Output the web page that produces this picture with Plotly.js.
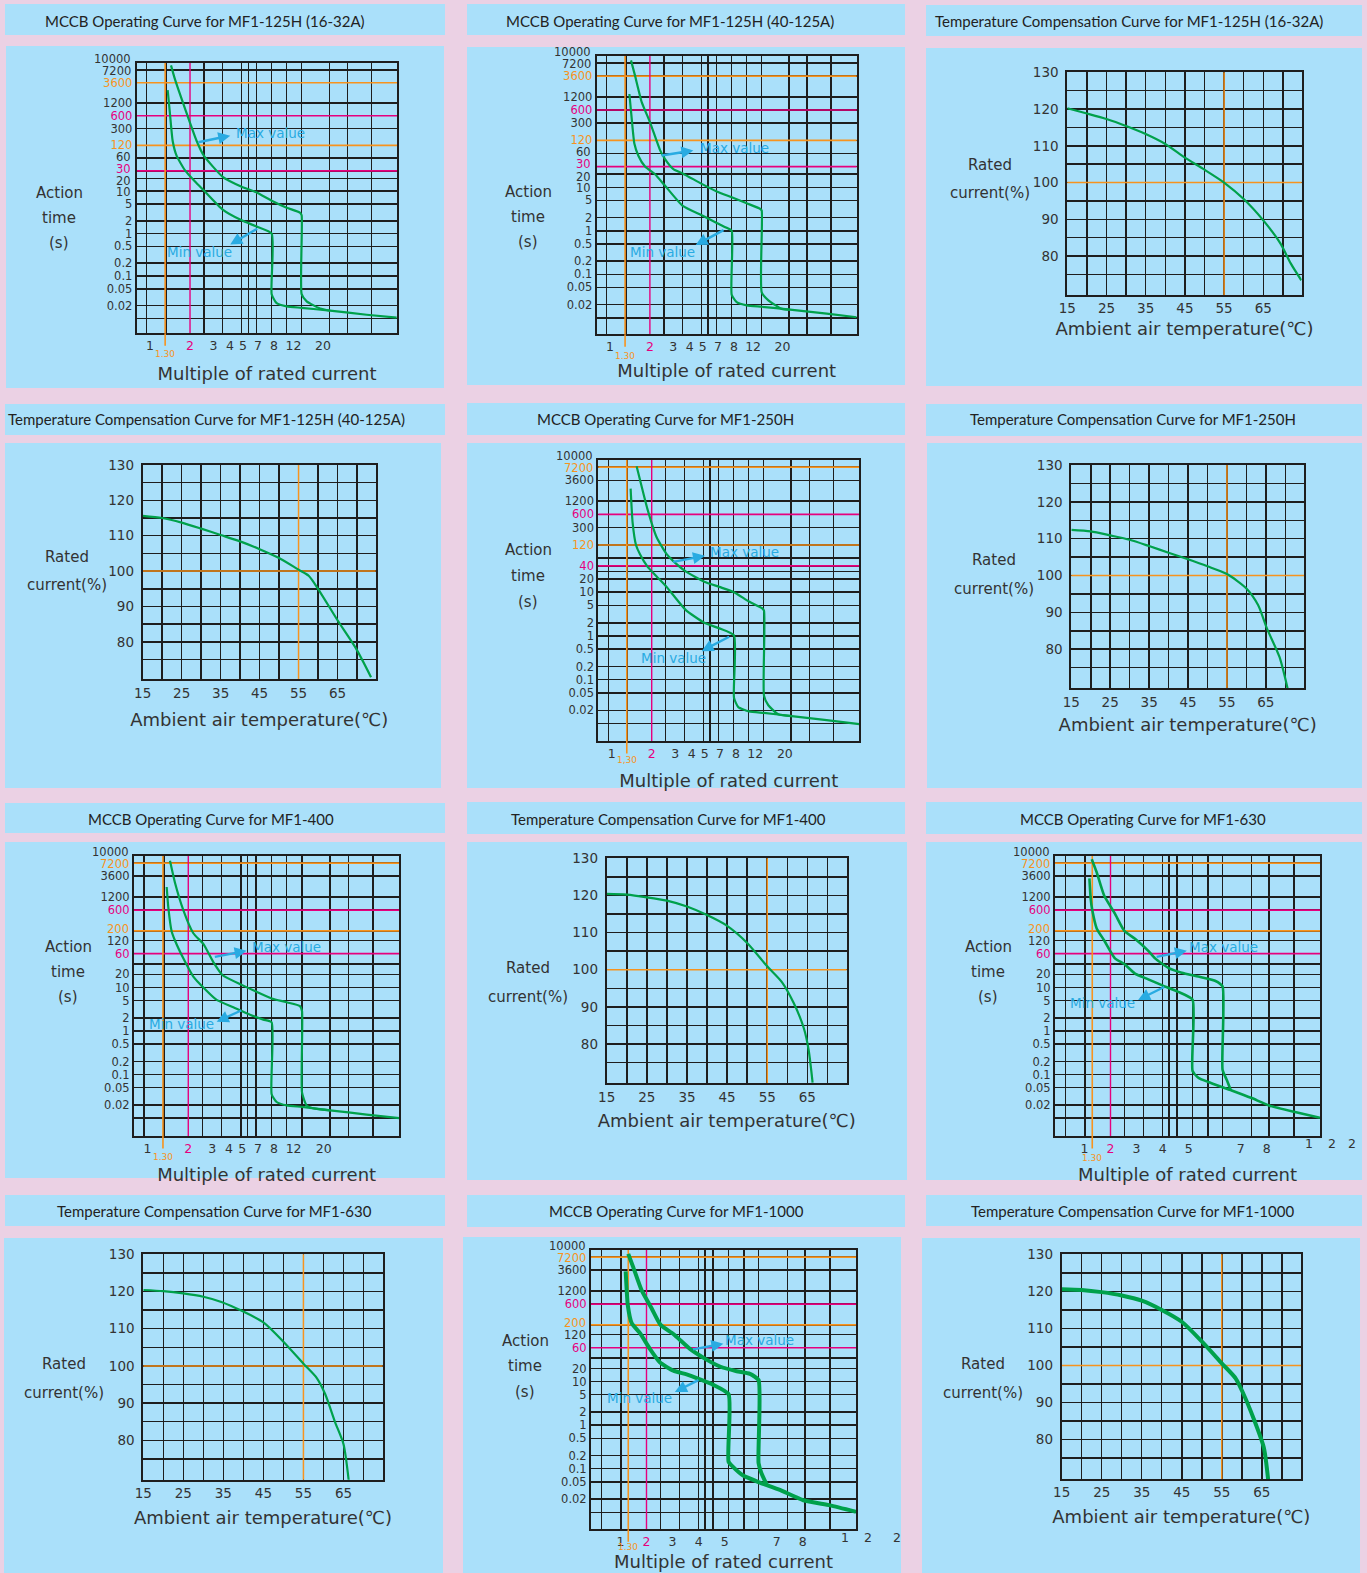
<!DOCTYPE html>
<html><head><meta charset="utf-8">
<script src="https://cdn.plot.ly/plotly-3.0.1.min.js"></script>
<style>html,body{margin:0;padding:0;background:#EBD1E4;}#chart{width:1367px;height:1573px;}</style>
</head><body><div id="chart"></div>
<script>
// ================= DATA =================
const panelTitles = [
  "MCCB Operating Curve for MF1-125H (16-32A)",
  "MCCB Operating Curve for MF1-125H (40-125A)",
  "Temperature Compensation Curve for MF1-125H (16-32A)",
  "Temperature Compensation Curve for MF1-125H (40-125A)",
  "MCCB Operating Curve for MF1-250H",
  "Temperature Compensation Curve for MF1-250H",
  "MCCB Operating Curve for MF1-400",
  "Temperature Compensation Curve for MF1-400",
  "MCCB Operating Curve for MF1-630",
  "Temperature Compensation Curve for MF1-630",
  "MCCB Operating Curve for MF1-1000",
  "Temperature Compensation Curve for MF1-1000"
];

// Operating curves: x = multiple of rated current, y = action time (s)
const op125aMinX = [1.358,1.414,1.481,1.587,1.834,2.18,2.548,3.521,4.892,6.343,8.226,8.226,8.967,10.66,13.82,22.59,42.62,71.65];
const op125aMinY = [2400,650,152,67.6,31,16.9,10.3,3.68,2.05,1.46,1.0,0.0373,0.0229,0.0193,0.0178,0.0153,0.0122,0.0105];
const op125aMaxX = [1.439,1.542,1.834,2.244,2.548,3.521,4.892,6.343,8.226,10.66,13.43,13.82,13.82,15.08,19.0,22.59];
const op125aMaxY = [9200,4290,881,152,67.6,21.8,12.7,9.3,5.95,4.08,3.13,2.71,0.0373,0.0253,0.0172,0.0153];

const op125bMinX = [1.401,1.458,1.527,1.637,1.838,2.186,2.556,3.535,4.915,6.377,7.586,8.276,8.276,9.024,10.74,13.93,22.78,43.03,72.44];
const op125bMinY = [1400,384,102,53.4,30,20,11.6,3.75,2.28,1.52,1.17,1.0,0.0335,0.0229,0.0193,0.0179,0.0154,0.0124,0.0103];
const op125bMaxX = [1.441,1.545,1.735,2.005,2.385,2.601,3.005,3.535,4.915,6.377,8.276,10.74,13.53,13.93,13.93,15.64,19.71,22.78];
const op125bMaxY = [8300,3700,913,312,71.8,44.5,26.2,20.9,12.0,8.06,5.9,4.29,3.22,2.93,0.0383,0.0252,0.016,0.0154];

const op250MinX = [1.389,1.438,1.524,1.633,1.854,2.178,2.590,3.596,4.966,6.437,8.297,8.297,8.939,10.75,13.94,22.48,41.18,72.44];
const op250MinY = [2320,387,120,73.9,39,22.9,13.2,3.95,2.0,1.49,1.03,0.039,0.0236,0.0189,0.0174,0.0148,0.0119,0.0097];
const op250MaxX = [1.541,1.633,1.854,2.178,2.590,2.905,3.596,4.966,6.437,8.297,10.75,13.38,13.94,13.94,15.02,17.85,22.48];
const op250MaxY = [7560,3690,812,180,73.9,51.4,30,17.4,13.2,10,6.1,4.36,3.81,0.0433,0.0261,0.0162,0.0148];

const op400MinX = [1.385,1.424,1.508,1.595,1.838,2.179,2.584,3.240,4.302,5.711,7.170,8.260,8.260,8.992,10.66,13.84,22.27,41.56,72.44];
const op400MinY = [2030,695,194,120,46.7,17.8,10,5.2,3.52,2.38,1.83,1.59,0.0354,0.0235,0.0196,0.0181,0.0151,0.0121,0.0100];
const op400MaxX = [1.465,1.595,1.838,2.179,2.584,3.062,3.589,4.958,6.399,8.260,10.78,13.37,13.84,13.84,14.98,17.26,22.27];
const op400MaxY = [8130,2550,600,176,100,38.4,19.1,11.5,7.94,5.61,4.54,3.73,2.89,0.039,0.0196,0.0165,0.0151];

const op630MinX = [1.19,1.24,1.30,1.47,1.76,2.17,2.53,2.94,3.45,3.99,4.60,5.15,5.15,5.37,5.75,6.65,7.42,8.08,9.04,10.04];
const op630MinY = [3200,1084,600,228,120,46.7,34.6,20.8,15.4,11.2,7.94,5.23,0.121,0.085,0.0675,0.0433,0.0289,0.0196,0.0140,0.0102];
const op630MaxX = [1.28,1.47,1.76,2.17,2.53,2.94,3.45,3.71,4.22,4.73,5.37,6.01,6.30,6.30,6.46,6.62];
const op630MaxY = [8860,4430,1280,495,200,132,69.6,46.7,28.2,21.8,17.8,14.3,10.6,0.13,0.0758,0.0433];

const op1000MinX = [1.20,1.24,1.28,1.43,1.75,2.13,2.52,3.03,3.54,4.05,4.56,5.15,5.15,5.33,5.71,6.35,7.12,8.02,9.04,10.04];
const op1000MinY = [3365,1253,577,220,129,56.3,27.3,17.8,14.6,11.2,8.41,5.12,0.145,0.109,0.0698,0.048,0.0326,0.0189,0.0144,0.0103];
const op1000MaxX = [1.30,1.49,1.81,2.20,2.54,3.03,3.67,4.24,4.82,5.46,5.97,6.30,6.30,6.41,6.61];
const op1000MaxY = [8540,4240,1253,476,200,124,56.3,33.7,22.2,17.3,15.0,10.9,0.135,0.0794,0.0436];

// Temperature compensation: x = ambient temperature (°C), y = rated current (%)
const tc125aX = [15,20,25,30,35,40,45,50,55,60,65,69.4,72,74.7];
const tc125aY = [120.2,118.8,117.3,115.4,113.2,110.5,106.8,103.5,100,95.5,89.7,83.4,78,73.4];
const tc125bX = [15,20,25,30,35,40,45,50,55,57.6,60,65,69.7,73.6];
const tc125bY = [115.6,115,113.7,112,110.2,108.4,106.2,103.7,100.4,98.7,95,86.1,78.2,70];
const tc250X = [15,20,25,30,35,40,45,50,55,60,63,65.3,68.5,70.6];
const tc250Y = [112.4,112,110.9,109.7,108,106.2,104.4,102.5,100.4,96.5,92,85.6,77.9,69.3];
const tc400X = [15,20,25,30,35,40,45,50,55,58.7,61.6,64.1,65.3,66.3];
const tc400Y = [120.4,120.2,119.5,118.6,117,114.7,111.8,107.2,100.9,96.6,91,84.3,78.5,69.6];
const tc630X = [15,20,25,30,34.5,39.6,45,50,55,58.3,60.4,62.9,65,66.3];
const tc630Y = [120.4,120.1,119.5,118.6,117.2,114.8,111.7,106.5,100.6,96.8,92.5,84.9,79,69.3];
const tc1000X = [15,20,25,30,35,40,45,50,55,58.5,60.4,63,65.5,66.6];
const tc1000Y = [120.6,120.4,119.8,118.9,117.5,115,111.8,106.5,100.6,96.5,92.4,85.6,77.9,69.1];

// Tick tables
const ORANGE = '#F7931E', MAGENTA = '#E6007E';
const o = s => '<span style="color:' + ORANGE + '">' + s + '</span>';
const m = s => '<span style="color:' + MAGENTA + '">' + s + '</span>';

const opLogXVals = [1,2,3,4,5,7,8,12,20];
const opLogXText = ['1',m('2'),'3','4','5','7','8','12','20'];
const opLogXNudge = {7:-4, 8:4};   // crowded neighbours pushed apart (pixels)
const opLogXGrid = [0.944,1.319,2.548,3.521,4.892,5.49,6.343,8.226,10.66,13.82,22.33,30.5,46.5];
const opLinXVals = [1,2,3,4,5,7,8];
const opLinXText = ['1',m('2'),'3','4','5','7','8'];
const opLinXGrid = [0.28,1.02,2.53,3.26,3.99,4.24,4.56,5.15,5.75,6.30,7.42,8.08,9.04];
const opLinXExtraText = ['1','2','2'];

const opYValsA = [10000,7200,3600,1200,600,300,120,60,30,20,10,5,2,1,0.5,0.2,0.1,0.05,0.02,0.01];
const opYTextA = ['10000','7200',o('3600'),'1200',m('600'),'300',o('120'),'60',m('30'),'20','10','5','2','1','0.5','0.2','0.1','0.05','0.02',''];
const opYValsB = [10000,7200,3600,1200,600,300,120,60,40,30,20,10,5,2,1,0.5,0.2,0.1,0.05,0.02,0.01];
const opYTextB = ['10000',o('7200'),'3600','1200',m('600'),'300',o('120'),'',m('40'),'','20','10','5','2','1','0.5','0.2','0.1','0.05','0.02',''];
const opYValsC = [10000,7200,3600,1200,600,200,120,60,35,20,10,5,2,1,0.5,0.2,0.1,0.05,0.02,0.01];
const opYTextC = ['10000',o('7200'),'3600','1200',m('600'),o('200'),'120',m('60'),'','20','10','5','2','1','0.5','0.2','0.1','0.05','0.02',''];
// crowded neighbouring labels are nudged apart (pixels, + = up)
const opYNudgeA = {10000:5, 7200:-1, 60:1.2, 30:2.3, 20:-2.3, 10:-1.1};
const opYNudgeB = {10000:5, 7200:-1};
const opYNudgeC = {10000:5, 7200:-1, 200:1.6, 120:-0.8};

const tempXVals = [15,20,25,30,35,40,45,50,55,60,65,70];
const tempXText = ['15','','25','','35','','45','','55','','65',''];
const tempYVals = [75,80,85,90,95,100,105,110,115,120,125,130];
const tempYText = ['','80','','90','','100','','110','','120','','130'];

// ================= STYLE / LAYOUT =================
const W = 1367, H = 1573;
const PINK = '#EBD1E4', BLUE = '#AAE0FA', GREEN = '#00A14B', CYAN = '#29ABE2', GRID = '#1E1E1E', TXT = '#333333';
const fx = px => px / W, fy = py => 1 - py / H;
const X_TITLE_OP = 'Multiple of rated current', X_TITLE_T = 'Ambient air temperature(℃)';

const panels = [
 {kind:'op', bar:[5,4,445,35], box:[6,46,444,388], tpos:[205,21], dom:[136.7,397.3,63,333.3], log:true, xr:[-0.10,1.86], yr:[-2.35,4.02],
  yv:opYValsA, yt:opYTextA, yn:opYNudgeA, minX:op125aMinX, minY:op125aMinY, maxX:op125aMaxX, maxY:op125aMaxY, hO:[3600,120], hM:[600,30], lw:2.2,
  yTitle:[59,193,218,243], xOff:36, lab130:['1.30',354],
  mx:{t:[4.253,237],h:[4.013,203],s:[2.251,140]}, mn:{t:[1.299,0.368],h:[4.013,0.55],s:[6.565,1.37]}},
 {kind:'op', bar:[467,4,905,35], box:[467,47,905,385], tpos:[669.5,21], dom:[596.7,856.7,56,334.3], log:true, xr:[-0.10,1.86], yr:[-2.38,4.02],
  yv:opYValsA, yt:opYTextA, yn:opYNudgeA, minX:op125bMinX, minY:op125bMinY, maxX:op125bMaxX, maxY:op125bMaxY, hO:[3600,120], hM:[600,30], lw:2.2,
  yTitle:[528,192,217,242], xOff:32, lab130:['1.30',356.5],
  mx:{t:[4.585,80.6],h:[4.253,70],s:[2.385,53.4]}, mn:{t:[1.376,0.32],h:[4.428,0.47],s:[7.37,1.08]}},
 {kind:'temp', bar:[926,5,1362,36], box:[926,48,1362,386], tpos:[1129,21], dom:[1067.3,1301.7,72.3,295], x:tc125aX, y:tc125aY, lw:2.2,
  yTitle:[990,165,193], xOff:30},
 {kind:'temp', bar:[5,404,445,435], box:[5,443,441,788], tpos:[206.5,419], dom:[142.7,375.7,465,679.3], x:tc125bX, y:tc125bY, lw:2.2,
  yTitle:[67,557,585], xOff:37},
 {kind:'op', bar:[467,403,905,435], box:[467,443,905,788], tpos:[665,419], dom:[598.3,859.3,460,741], log:true, xr:[-0.10,1.86], yr:[-2.40,4.02],
  yv:opYValsB, yt:opYTextB, yn:opYNudgeB, minX:op250MinX, minY:op250MinY, maxX:op250MaxX, maxY:op250MaxY, hO:[7200,120], hM:[600,40], lw:2.2,
  yTitle:[528,550,576,602], xOff:35, lab130:['1,30',759.5],
  mx:{t:[5.321,81.4],h:[5.023,67.8],s:[2.823,48.5]}, mn:{t:[1.604,0.313],h:[4.742,0.45],s:[7.831,1.0]}},
 {kind:'temp', bar:[926,404,1362,436], box:[927,443,1362,788], tpos:[1133,419], dom:[1071.3,1304,465,688.3], x:tc250X, y:tc250Y, lw:2.2,
  yTitle:[994,560,589], xOff:33},
 {kind:'op', bar:[5,803,445,833], box:[5,842,445,1178], tpos:[211.5,819.5], dom:[134,399.3,856,1136], log:true, xr:[-0.10,1.86], yr:[-2.41,4.02],
  yv:opYValsC, yt:opYTextC, yn:opYNudgeC, minX:op400MinX, minY:op400MinY, maxX:op400MaxX, maxY:op400MaxY, hO:[7200,200], hM:[600,60], lw:2.2,
  yTitle:[68,947,972,997], xOff:34, lab130:['1.30',1156.5],
  mx:{t:[5.711,86.4],h:[5.398,69.6],s:[3.062,49.9]}, mn:{t:[0.9965,1.45],h:[3.240,1.64],s:[5.043,3.07]}},
 {kind:'temp', bar:[467,802,905,834], box:[467,842,907,1180], tpos:[668,819.5], dom:[606.7,846.7,858.3,1083.3], x:tc400X, y:tc400Y, lw:2.2,
  yTitle:[527.5,968,997], xOff:34},
 {kind:'op', bar:[926,802,1362,834], box:[926,842,1362,1180], tpos:[1143,819.5], dom:[1055,1320,856,1136], log:false, xr:[-0.13,10.04], yr:[-2.41,4.02],
  yv:opYValsC, yt:opYTextC, yn:opYNudgeC, minX:op630MinX, minY:op630MinY, maxX:op630MaxX, maxY:op630MaxY, hO:[7200,200], hM:[600,60], lw:2.6,
  yTitle:[988,947,972,997], xOff:34, lab130:['1.30',1157.5], extraPos:[[1309.3,1143.3],[1332.3,1143.3],[1352.3,1143.3]],
  mx:{t:[4.95,86.4],h:[4.93,69.6],s:[3.71,49.9]}, mn:{t:[0.38,4.37],h:[3.06,5.2],s:[4.12,10.7]}},
 {kind:'temp', bar:[5,1195,445,1226], box:[4,1238,443,1573], tpos:[214,1211], dom:[143.3,382.7,1254.3,1479.7], x:tc630X, y:tc630Y, lw:2.2,
  yTitle:[64,1364,1393], xOff:34},
 {kind:'op', bar:[467,1195,905,1227], box:[463,1237,901,1573], tpos:[676,1211], dom:[591,856,1250,1529.3], log:false, xr:[-0.13,10.04], yr:[-2.39,4.02],
  yv:opYValsC, yt:opYTextC, yn:opYNudgeC, minX:op1000MinX, minY:op1000MinY, maxX:op1000MaxX, maxY:op1000MaxY, hO:[7200,200], hM:[600,60], lw:4,
  yTitle:[525,1341,1366,1392], xTitleAt:[723.5,1561], lab130:['1.30',1547], extraPos:[[845,1537.7],[868.3,1537.7],[896.7,1537.7]],
  mx:{t:[4.95,88.5],h:[4.95,74],s:[3.73,54]}, mn:{t:[0.41,4.1],h:[3.09,5.8],s:[4.05,11.2]}},
 {kind:'temp', bar:[926,1195,1362,1226], box:[922,1238,1360,1573], tpos:[1132,1211], dom:[1061.7,1301,1254.3,1479], x:tc1000X, y:tc1000Y, lw:4,
  yTitle:[982.5,1364,1393], xOff:34}
];

const data = [];
const layout = {
  width: W, height: H, margin: {l:0, r:0, t:0, b:0},
  paper_bgcolor: PINK, plot_bgcolor: BLUE, showlegend: false, hovermode: false,
  shapes: [], annotations: []
};
const rect = r => ({type:'rect', xref:'paper', yref:'paper', x0:fx(r[0]), x1:fx(r[2]), y0:fy(r[3]), y1:fy(r[1]),
  fillcolor:BLUE, line:{width:0}, layer:'below'});
const ann = (q) => Object.assign({showarrow:false, xref:'paper', yref:'paper'}, q);

panels.forEach((p, i) => {
  const n = i + 1, sfx = n === 1 ? '' : String(n);
  const xa = 'xaxis' + sfx, ya = 'yaxis' + sfx, xr = 'x' + sfx, yr = 'y' + sfx;
  layout.shapes.push(rect(p.bar), rect(p.box));
  layout.annotations.push(ann({text: panelTitles[i], x: fx(p.tpos[0]), y: fy(p.tpos[1]), xanchor:'center', yanchor:'middle',
    font:{family:'Lato, "Open Sans", sans-serif', size:15, color:'#222'}}));
  const common = {showgrid:true, gridcolor:GRID, gridwidth:1.5, showline:true, linecolor:GRID, linewidth:2, mirror:true,
    ticks:'', zeroline:false, fixedrange:true, tickmode:'array', tickangle:0};
  const axFont = {family:'DejaVu Sans, sans-serif', color:TXT};
  const titleFont = {family:'DejaVu Sans, sans-serif', size:18, color:TXT};

  if (p.kind === 'op') {
    const vx = v => p.log ? Math.log10(v) : v;
    const xv = p.log ? opLogXVals : opLinXVals, xtAll = p.log ? opLogXText : opLinXText;
    const xn = p.log ? opLogXNudge : {};
    const xtext = xtAll.map((t, k) => (xn[xv[k]] !== undefined ? '' : t));
    // the bottom panel's axis title sits at the page edge, so it is placed directly there
    const xTitle = p.xTitleAt ? {text:''} : {text:X_TITLE_OP, font:titleFont, standoff: p.xOff - 21};
    if (p.xTitleAt) layout.annotations.push(ann({text:X_TITLE_OP, x:fx(p.xTitleAt[0]), y:fy(p.xTitleAt[1]),
      xanchor:'center', yanchor:'middle', borderpad:0, font:titleFont}));
    layout[xa] = Object.assign({}, common, {domain:[fx(p.dom[0]), fx(p.dom[1])], anchor:yr,
      type: p.log ? 'log' : 'linear', range: p.xr, showgrid:false,
      tickvals: xv, ticktext: xtext,
      minor:{tickmode:'array', tickvals: p.log ? opLogXGrid : opLinXGrid, showgrid:true, gridcolor:GRID, gridwidth:1.5, ticks:''},
      tickfont: Object.assign({size:12.5}, axFont), title: xTitle});
    xv.forEach((v, k) => {
      if (xn[v] === undefined) return;
      layout.annotations.push({text:xtAll[k], xref:xr, yref:yr + ' domain', x:vx(v), y:0, xshift:xn[v], yshift:-3,
        xanchor:'center', yanchor:'top', showarrow:false, font:Object.assign({size:12.5}, axFont)});
    });
    const ytext = p.yt.map((t, k) => (p.yn[p.yv[k]] !== undefined ? '' : t));
    layout[ya] = Object.assign({}, common, {domain:[fy(p.dom[3]), fy(p.dom[2])], anchor:xr,
      type:'log', range:p.yr, tickvals:p.yv, ticktext:ytext, tickfont: Object.assign({size:11.5}, axFont)});
    p.yv.forEach((v, k) => {
      if (p.yn[v] === undefined) return;
      layout.annotations.push({text:p.yt[k], xref:'paper', yref:yr, x:fx(p.dom[0] - 3.5), y:Math.log10(v), yshift:p.yn[v],
        xanchor:'right', yanchor:'middle', showarrow:false, font:Object.assign({size:11.5}, axFont)});
    });
    const bigX = p.log ? [0.1, 1000] : [-1, 20];
    p.hO.forEach(v => data.push({x:bigX, y:[v, v], xaxis:xr, yaxis:yr, mode:'lines', line:{color:ORANGE, width:1.6}}));
    p.hM.forEach(v => data.push({x:bigX, y:[v, v], xaxis:xr, yaxis:yr, mode:'lines', line:{color:MAGENTA, width:1.6}}));
    data.push({x:[1.3, 1.3], y:[1e-4, 1e6], xaxis:xr, yaxis:yr, mode:'lines', line:{color:ORANGE, width:1.6}});
    data.push({x:[2, 2], y:[1e-4, 1e6], xaxis:xr, yaxis:yr, mode:'lines', line:{color:MAGENTA, width:1.4}});
    data.push({x:p.minX, y:p.minY, xaxis:xr, yaxis:yr, mode:'lines', name:'Min value', line:{color:GREEN, width:p.lw, shape:'spline', smoothing:0.5}});
    data.push({x:p.maxX, y:p.maxY, xaxis:xr, yaxis:yr, mode:'lines', name:'Max value', line:{color:GREEN, width:p.lw, shape:'spline', smoothing:0.5}});
    layout.annotations.push({text:p.lab130[0], xref:xr, yref:'paper', x:vx(1.3), y:fy(p.lab130[1]), showarrow:false,
      font:{family:'DejaVu Sans, sans-serif', size:9, color:ORANGE}, xanchor:'center', yanchor:'middle', borderpad:0});
    layout.annotations.push({text:'', xref:xr, yref:yr + ' domain', x:vx(1.3), y:0, showarrow:true, ax:0, ay:14,
      arrowhead:0, arrowwidth:1.6, arrowcolor:ORANGE, standoff:0, startstandoff:0});
    ['Action','time','(s)'].forEach((t, k) => layout.annotations.push(ann({text:t, x:fx(p.yTitle[0]), y:fy(p.yTitle[k+1]),
      xanchor:'center', yanchor:'middle', font:{family:'DejaVu Sans, sans-serif', size:15, color:TXT}})));
    [['Max value', p.mx], ['Min value', p.mn]].forEach(([t, q]) => {
      layout.annotations.push({text:t, xref:xr, yref:yr, x:vx(q.t[0]), y:Math.log10(q.t[1]), xanchor:'left', yanchor:'middle',
        showarrow:false, font:{family:'DejaVu Sans, sans-serif', size:13.5, color:CYAN}});
      layout.annotations.push({text:'', xref:xr, yref:yr, x:vx(q.h[0]), y:Math.log10(q.h[1]), axref:xr, ayref:yr,
        ax:vx(q.s[0]), ay:Math.log10(q.s[1]), showarrow:true, arrowhead:2, arrowsize:1, arrowwidth:2.4, arrowcolor:CYAN, standoff:0});
    });
    if (p.extraPos) {
      opLinXExtraText.forEach((t, k) => layout.annotations.push(ann({text:t, x:fx(p.extraPos[k][0]), y:fy(p.extraPos[k][1]),
        xanchor:'center', yanchor:'middle', font:Object.assign({size:12.5}, axFont)})));
    }
  } else {
    layout[xa] = Object.assign({}, common, {domain:[fx(p.dom[0]), fx(p.dom[1])], anchor:yr, type:'linear', range:[15, 74.8],
      tickvals:tempXVals, ticktext:tempXText, tickfont:Object.assign({size:13.5}, axFont),
      title:{text:X_TITLE_T, font:titleFont, standoff: p.xOff - 23}});
    layout[ya] = Object.assign({}, common, {domain:[fy(p.dom[3]), fy(p.dom[2])], anchor:xr, type:'linear', range:[69.4, 130],
      tickvals:tempYVals, ticktext:tempYText, tickfont:Object.assign({size:13.5}, axFont), ticklabelstandoff:4});
    data.push({x:[55, 55], y:[60, 140], xaxis:xr, yaxis:yr, mode:'lines', line:{color:ORANGE, width:1.5}});
    data.push({x:[0, 100], y:[100, 100], xaxis:xr, yaxis:yr, mode:'lines', line:{color:ORANGE, width:1.5}});
    data.push({x:p.x, y:p.y, xaxis:xr, yaxis:yr, mode:'lines', name:'Rated current', line:{color:GREEN, width:p.lw, shape:'spline', smoothing:0.7}});
    layout.annotations.push(ann({text:'Rated', x:fx(p.yTitle[0]), y:fy(p.yTitle[1]), xanchor:'center', yanchor:'middle',
      font:{family:'DejaVu Sans, sans-serif', size:15, color:TXT}}));
    layout.annotations.push(ann({text:'current(%)', x:fx(p.yTitle[0]), y:fy(p.yTitle[2]), xanchor:'center', yanchor:'middle',
      font:{family:'DejaVu Sans, sans-serif', size:15, color:TXT}}));
  }
});

Plotly.newPlot('chart', data, layout, {staticPlot:true, displayModeBar:false});
</script>
</body></html>
